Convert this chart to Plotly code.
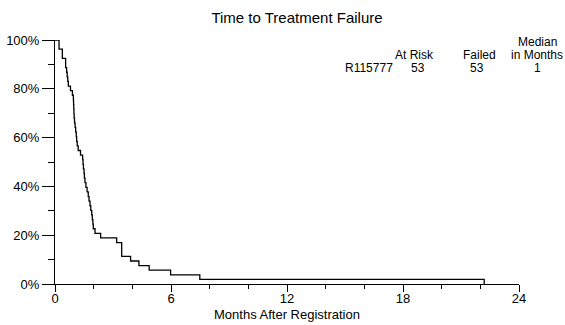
import plotly.graph_objects as go

# Failure times (months); no censoring (53 at risk, 53 failed)
n_at_risk = 53
failure_times = [
    0.21, 0.21, 0.38, 0.38, 0.55, 0.55,
    0.60, 0.63, 0.66, 0.69, 0.80, 0.90,
    0.95, 0.96, 0.97, 0.98, 0.99,
    1.01, 1.04, 1.07, 1.10, 1.12, 1.15,
    1.20, 1.32, 1.43,
    1.45, 1.47, 1.50, 1.52, 1.55,
    1.60, 1.66, 1.72, 1.76, 1.81, 1.85, 1.90,
    1.93, 1.96, 1.98, 2.07, 2.36, 3.19,
    3.45, 3.45, 3.45, 3.91, 4.34, 4.87, 5.98, 7.49, 22.2,
]

x_ticks = [0, 6, 12, 18, 24]
y_ticks = [0, 20, 40, 60, 80, 100]

group_name = "R115777"
group_at_risk = "53"
group_failed = "53"
group_median = "1"

# Kaplan-Meier steps (no censoring)
xs = [0.0]
ys = [100.0]
remaining = n_at_risk
for t in failure_times:
    remaining -= 1
    xs.append(t)
    ys.append(100.0 * remaining / n_at_risk)

FONT = "Liberation Sans, Arial, sans-serif"

fig = go.Figure()
fig.add_trace(go.Scatter(
    x=xs, y=ys, mode="lines", line=dict(color="black", width=1.3, shape="hv"),
    cliponaxis=False, showlegend=False, hoverinfo="skip",
))

W, H = 565, 325
L, R, T, B = 55, 46, 40, 41
pw, ph = W - L - R, H - T - B

def px(x):
    return (x - L) / pw

def py(y):
    return (H - B - y) / ph

ann = []
def add(text, x, y, size=12):
    ann.append(dict(text=text, x=px(x), y=py(y), xref="paper", yref="paper",
                    showarrow=False, xanchor="center", yanchor="middle",
                    font=dict(family=FONT, size=size, color="black")))

add("Median", 537, 42)
add("in Months", 537, 55)
add("At Risk", 414, 55)
add("Failed", 479, 55)
add(group_name, 369, 68)
add(group_at_risk, 418, 68)
add(group_failed, 477, 68)
add(group_median, 537, 68)
add("Months After Registration", 287, 314, size=13)

fig.update_layout(
    width=W, height=H,
    margin=dict(l=L, r=R, t=T, b=B),
    paper_bgcolor="white", plot_bgcolor="white",
    font=dict(family=FONT, size=13, color="black"),
    title=dict(text="Time to Treatment Failure", x=297 / W, xanchor="center",
               y=1 - 18 / H, yanchor="middle",
               font=dict(family=FONT, size=15, color="black")),
    annotations=ann,
    xaxis=dict(
        range=[0, 24], tickvals=x_ticks, ticktext=[str(v) for v in x_ticks],
        automargin=False, ticklabelstandoff=-5,
        showgrid=False, zeroline=False, showline=True, linecolor="black", linewidth=1,
        ticks="outside", ticklen=7, tickcolor="black", tickwidth=1,
        minor=dict(dtick=2, ticks="outside", ticklen=4, tickcolor="black", tickwidth=1, showgrid=False),
        tickfont=dict(family=FONT, size=13, color="black"),
    ),
    yaxis=dict(
        range=[0, 100], tickvals=y_ticks, ticktext=[f"{v}%" for v in y_ticks],
        automargin=False,
        showgrid=False, zeroline=False, showline=True, linecolor="black", linewidth=1,
        ticks="outside", ticklen=12, tickcolor="black", tickwidth=1,
        minor=dict(dtick=10, ticks="outside", ticklen=6, tickcolor="black", tickwidth=1, showgrid=False),
        tickfont=dict(family=FONT, size=13, color="black"),
    ),
)

fig.write_html("out.html", config={"displayModeBar": False, "staticPlot": True})
with open("out.html", "r", encoding="utf-8") as f:
    html = f.read()
html = html.replace("<head>", "<head><style>html,body{margin:0;padding:0;overflow:hidden;}</style>", 1)
with open("out.html", "w", encoding="utf-8") as f:
    f.write(html)
